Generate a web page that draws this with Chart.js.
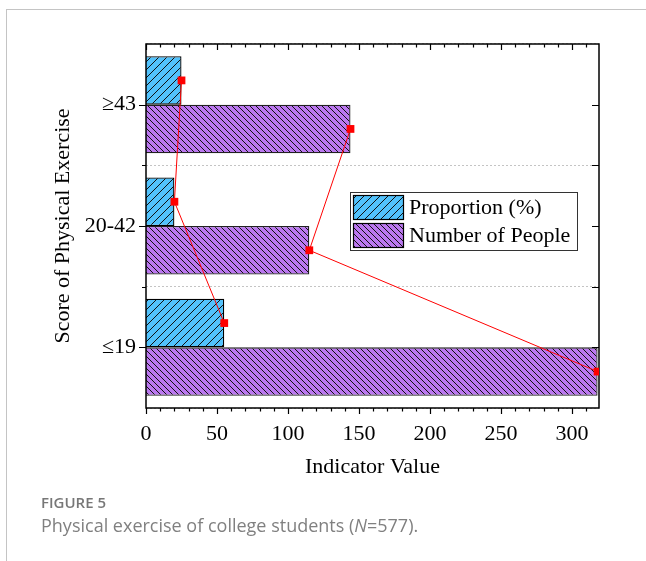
<!DOCTYPE html>
<html>
<head>
<meta charset="utf-8">
<script src="https://cdn.jsdelivr.net/npm/chart.js@4.4.0/dist/chart.umd.min.js"></script>
<style>
  html, body { margin: 0; padding: 0; background: #fff; }
  #wrap { position: relative; width: 646px; height: 561px; overflow: hidden; }
  #frame { position: absolute; left: 6px; top: 9px; width: 660px; height: 600px;
           border-top: 1px solid #c4c4c4; border-left: 1px solid #c4c4c4; }
  canvas { position: absolute; left: 0; top: 0; }
  .fig { position: absolute; left: 41px; font-family: "Open Sans", "Noto Sans", sans-serif; color: #777; white-space: nowrap; }
  #figno { top: 492px; font-size: 15px; font-weight: 600; }
  #figcap { top: 513px; font-size: 18px; color: #808080; }
</style>
</head>
<body>
<div id="wrap">
  <div id="frame"></div>
  <canvas id="chart" width="646" height="561"></canvas>
  <canvas id="lines" width="646" height="561"></canvas>
  <div class="fig" id="figno">FIGURE 5</div>
  <div class="fig" id="figcap">Physical exercise of college students (<i>N</i>=577).</div>
</div>
<script>
// categories from top to bottom
const categories = ['≥43', '20-42', '≤19'];
const proportion = [25, 20, 55.1];
const people = [144, 115, 318];
const xTicks = [0, 50, 100, 150, 200, 250, 300];
const xMax = 319;

const catPct = 0.8;
const serif = '"Liberation Serif", "Times New Roman", serif';
const pad = { top: 44, right: 47, left: 0, bottom: 78 };
const yAxisW = 146, xAxisH = 75;

function hatch(color, size, dir) {
  const c = document.createElement('canvas');
  c.width = size; c.height = size;
  const g = c.getContext('2d');
  g.fillStyle = color;
  g.fillRect(0, 0, size, size);
  g.strokeStyle = '#111';
  g.lineWidth = 1;
  g.beginPath();
  if (dir === '/') {
    g.moveTo(0, size); g.lineTo(size, 0);
    g.moveTo(-1, 1); g.lineTo(1, -1);
    g.moveTo(size - 1, size + 1); g.lineTo(size + 1, size - 1);
  } else {
    g.moveTo(0, 0); g.lineTo(size, size);
    g.moveTo(size - 1, -1); g.lineTo(size + 1, 1);
    g.moveTo(-1, size - 1); g.lineTo(1, size + 1);
  }
  g.stroke();
  return document.getElementById('chart').getContext('2d').createPattern(c, 'repeat');
}

const bluePat = hatch('#52c2fc', 8, '/');
const purplePat = hatch('#bb78f0', 6, '\\');

// red connector lines sit at the centre of each bar
const off = catPct / 4;
const propLine = proportion.map((v, i) => ({ x: v, y: i - off }));
const peopleLine = people.map((v, i) => ({ x: v, y: i + off }));

const framePlugin = {
  id: 'frame',
  afterDraw(chart) {
    const { ctx, chartArea: a, scales } = chart;
    const x = scales.x, y = scales.y;
    ctx.save();
    ctx.strokeStyle = '#000';
    ctx.lineWidth = 1.5;
    ctx.strokeRect(a.left, a.top, a.right - a.left, a.bottom - a.top);
    ctx.beginPath();
    for (let v = 0; v <= x.max; v += 10) {
      const px = Math.round(x.getPixelForValue(v)) + 0.5;
      const len = v % 50 === 0 ? 6 : 3.5;
      ctx.moveTo(px, a.bottom); ctx.lineTo(px, a.bottom + len);
      ctx.moveTo(px, a.top); ctx.lineTo(px, a.top + len);
    }
    const h = (a.bottom - a.top) / categories.length;
    for (let i = 0; i < categories.length; i++) {
      const pc = Math.round(y.getPixelForValue(i)) + 0.5;
      ctx.moveTo(a.left, pc); ctx.lineTo(a.left - 7, pc);
      ctx.moveTo(a.right, pc); ctx.lineTo(a.right - 7, pc);
      if (i > 0) {
        const pb = Math.round(a.top + i * h) + 0.5;
        ctx.moveTo(a.left, pb); ctx.lineTo(a.left - 4, pb);
        ctx.moveTo(a.right, pb); ctx.lineTo(a.right - 7, pb);
      }
    }
    ctx.lineWidth = 1.2;
    ctx.stroke();

    // legend
    const lx = 350.5, ly = 192.5, lw = 227, lh = 58;
    ctx.fillStyle = '#fff';
    ctx.fillRect(lx, ly, lw, lh);
    ctx.strokeStyle = '#333';
    ctx.lineWidth = 1;
    ctx.strokeRect(lx, ly, lw, lh);
    chart.data.datasets.forEach((d, k) => {
      const sy = 195 + k * 28;
      ctx.fillStyle = d.backgroundColor;
      ctx.fillRect(353, sy, 51, 25);
      ctx.strokeStyle = '#000';
      ctx.lineWidth = 1.2;
      ctx.strokeRect(353.5, sy + 0.5, 50, 24);
      ctx.fillStyle = '#000';
      ctx.font = '22px ' + serif;
      ctx.textBaseline = 'middle';
      ctx.textAlign = 'left';
      ctx.fillText(d.label, 409, sy + 13);
    });
    ctx.restore();
  }
};

new Chart(document.getElementById('chart'), {
  type: 'bar',
  data: {
    labels: categories,
    datasets: [
      { label: 'Proportion (%)', data: proportion, backgroundColor: bluePat,
        borderColor: '#000', borderWidth: 1.3, categoryPercentage: catPct, barPercentage: 1 },
      { label: 'Number of People', data: people, backgroundColor: purplePat,
        borderColor: '#222', borderWidth: 1.3, categoryPercentage: catPct, barPercentage: 1 }
    ]
  },
  options: {
    indexAxis: 'y',
    responsive: false,
    animation: false,
    layout: { padding: pad },
    plugins: { legend: { display: false }, tooltip: { enabled: false } },
    scales: {
      x: {
        type: 'linear', min: 0, max: xMax,
        afterBuildTicks: s => { s.ticks = xTicks.map(v => ({ value: v })); },
        grid: { display: false, drawTicks: false },
        border: { display: false },
        ticks: { color: '#000', font: { family: serif, size: 22 }, padding: 13 },
        title: { display: true, text: 'Indicator Value', color: '#000',
                 font: { family: serif, size: 22 }, padding: { top: 8, bottom: 3 } },
        afterFit: s => { s.height = xAxisH; }
      },
      y: {
        type: 'category', offset: true,
        grid: { display: true, offset: true, drawTicks: false, color: '#c4c4c4', lineWidth: 1 },
        border: { display: false, dash: [2, 2] },
        ticks: { color: '#000', font: { family: serif, size: 22 }, padding: 10 },
        title: { display: true, text: 'Score of Physical Exercise', color: '#000',
                 font: { family: serif, size: 22 }, padding: { top: 50, bottom: 0 } },
        afterFit: s => { s.width = yAxisW; }
      }
    }
  },
  plugins: [framePlugin]
});

// overlay chart with the same plot area for the red connector lines
const lineStyle = { showLine: true, borderColor: '#ff0000', borderWidth: 1, pointStyle: 'rect',
  pointRadius: 5.5, pointBackgroundColor: '#ff0000', pointBorderWidth: 0 };
const hidden = { grid: { display: false, drawTicks: false }, border: { display: false },
  ticks: { display: false }, title: { display: false } };

new Chart(document.getElementById('lines'), {
  type: 'scatter',
  data: {
    datasets: [
      Object.assign({ label: 'Proportion (%)', data: propLine }, lineStyle),
      Object.assign({ label: 'Number of People', data: peopleLine }, lineStyle)
    ]
  },
  options: {
    responsive: false,
    animation: false,
    layout: { padding: pad },
    plugins: { legend: { display: false }, tooltip: { enabled: false } },
    scales: {
      x: Object.assign({ type: 'linear', min: 0, max: xMax, afterFit: s => { s.height = xAxisH; } }, hidden),
      y: Object.assign({ type: 'linear', min: -0.5, max: categories.length - 0.5, reverse: true,
                         afterFit: s => { s.width = yAxisW; } }, hidden)
    }
  }
});
</script>
</body>
</html>
